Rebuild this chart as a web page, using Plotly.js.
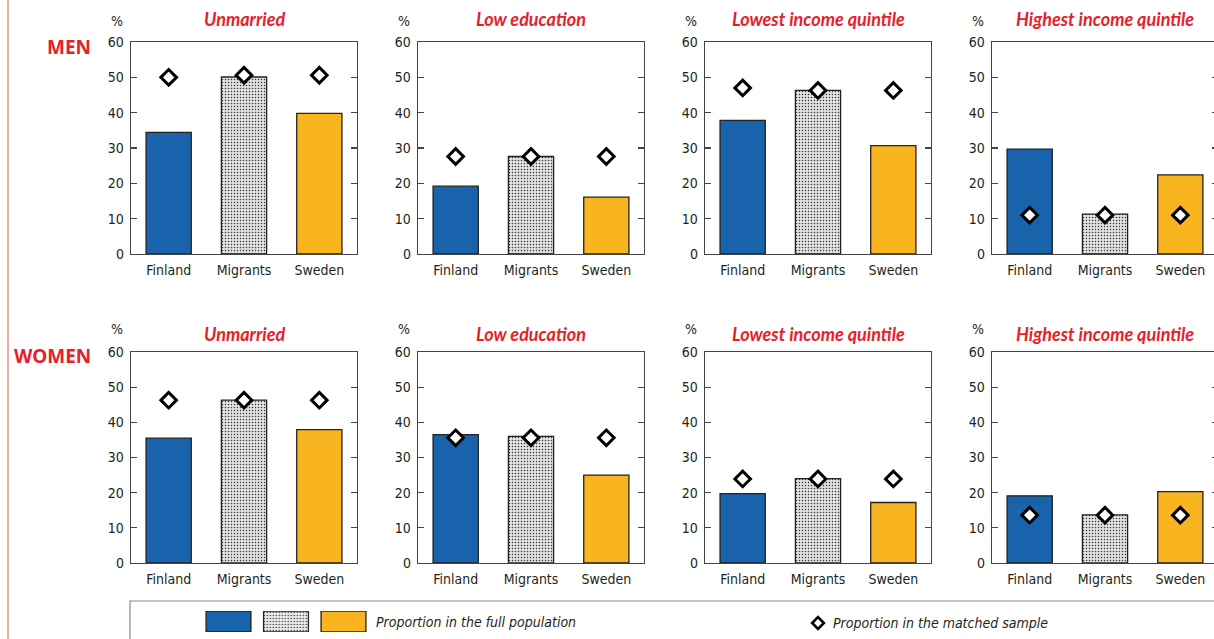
<!DOCTYPE html>
<html>
<head>
<meta charset="utf-8">
<script src="https://cdn.plot.ly/plotly-3.0.1.min.js"></script>
<style>
html,body{margin:0;padding:0;overflow:hidden;background:#fff;width:1214px;height:639px;}
#chart{width:1230px;height:639px;}
</style>
</head>
<body>
<div id="chart"></div>
<script>
// ---------------- DATA ----------------
const categories = ['Finland', 'Migrants', 'Sweden'];
const panelTitles = ['Unmarried', 'Low education', 'Lowest income quintile', 'Highest income quintile'];
const rowLabels = ['MEN', 'WOMEN'];
const yTicks = [0, 10, 20, 30, 40, 50, 60];

// Men – proportion in the full population
const menFullUnmarried = [34.4, 50.1, 39.8];
const menFullLowEducation = [19.2, 27.6, 16.1];
const menFullLowestIncome = [37.8, 46.3, 30.7];
const menFullHighestIncome = [29.7, 11.3, 22.4];
// Men – proportion in the matched sample
const menMatchedUnmarried = [50.0, 50.6, 50.6];
const menMatchedLowEducation = [27.6, 27.6, 27.6];
const menMatchedLowestIncome = [47.0, 46.3, 46.3];
const menMatchedHighestIncome = [11.0, 11.0, 11.0];

// Women – proportion in the full population
const womenFullUnmarried = [35.5, 46.3, 37.9];
const womenFullLowEducation = [36.5, 36.0, 25.0];
const womenFullLowestIncome = [19.7, 24.0, 17.2];
const womenFullHighestIncome = [19.1, 13.7, 20.3];
// Women – proportion in the matched sample
const womenMatchedUnmarried = [46.3, 46.3, 46.3];
const womenMatchedLowEducation = [35.6, 35.6, 35.6];
const womenMatchedLowestIncome = [23.9, 23.9, 23.9];
const womenMatchedHighestIncome = [13.6, 13.6, 13.6];

const legendFullLabel = 'Proportion in the full population';
const legendMatchedLabel = 'Proportion in the matched sample';
const legendSwatchValues = [1, 1, 1];

// ---------------- LAYOUT HELPERS ----------------
const W = 1230, H = 639;
const fx = p => p / W;
const fy = p => 1 - p / H;

const colLeft = [131, 418, 705, 992];
const colWidth = 226;
const rowTop = [42, 352];
const rowBottom = [254, 563];
const titleY = [19, 334];
const pctY = [21, 329];
const rowLabelY = [47, 356];

const blue = '#1863AC', yellow = '#F8B51F', red = '#E8202A';
const FONT = '"DejaVu Sans Condensed", "Liberation Sans Narrow", sans-serif';
const TITLEFONT = 'Lato, "DejaVu Sans Condensed", sans-serif';

const fullData = [
  [menFullUnmarried, menFullLowEducation, menFullLowestIncome, menFullHighestIncome],
  [womenFullUnmarried, womenFullLowEducation, womenFullLowestIncome, womenFullHighestIncome]
];
const matchedData = [
  [menMatchedUnmarried, menMatchedLowEducation, menMatchedLowestIncome, menMatchedHighestIncome],
  [womenMatchedUnmarried, womenMatchedLowEducation, womenMatchedLowestIncome, womenMatchedHighestIncome]
];

const traces = [];
const layout = {
  width: W, height: H,
  margin: {l: 0, r: 0, t: 0, b: 0},
  paper_bgcolor: '#fff', plot_bgcolor: '#fff',
  showlegend: false,
  font: {family: FONT, size: 14, color: '#231f20'},
  annotations: [], shapes: []
};

function barMarker(i, light) {
  const m = {color: [blue, '#e2e2e2', yellow][i], line: {color: '#222', width: 1.3}};
  if (i === 1) m.pattern = {shape: '.', bgcolor: light ? '#ececec' : '#e2e2e2', fgcolor: '#333', size: 3, solidity: 0.2, fillmode: 'replace'};
  return m;
}

let idx = 1;
for (let r = 0; r < 2; r++) {
  for (let c = 0; c < 4; c++) {
    const xa = idx === 1 ? 'x' : 'x' + idx;
    const ya = idx === 1 ? 'y' : 'y' + idx;
    const xk = idx === 1 ? 'xaxis' : 'xaxis' + idx;
    const yk = idx === 1 ? 'yaxis' : 'yaxis' + idx;
    layout[xk] = {
      domain: [fx(colLeft[c]), fx(colLeft[c] + colWidth)],
      anchor: ya, type: 'category', range: [-0.5, 2.5],
      showline: true, linecolor: '#444', linewidth: 1.3, mirror: true,
      ticks: '', showgrid: false, zeroline: false, ticklabelstandoff: 3,
      tickfont: {family: FONT, size: 14, color: '#231f20'}, fixedrange: true
    };
    layout[yk] = {
      domain: [fy(rowBottom[r]), fy(rowTop[r])],
      anchor: xa, range: [0, 60], tickvals: yTicks,
      showline: true, linecolor: '#444', linewidth: 1.3, mirror: 'ticks',
      ticks: 'inside', ticklen: 6, tickcolor: '#444', tickwidth: 1.2,
      showgrid: false, zeroline: false, ticklabelstandoff: 3,
      tickfont: {family: FONT, size: 14, color: '#231f20'}, fixedrange: true
    };
    const vals = fullData[r][c];
    categories.forEach((cat, i) => {
      traces.push({type: 'bar', x: [cat], y: [vals[i]], xaxis: xa, yaxis: ya, width: 0.6, marker: barMarker(i, false), hoverinfo: 'y'});
    });
    traces.push({
      type: 'scatter', mode: 'markers', x: categories, y: matchedData[r][c], xaxis: xa, yaxis: ya,
      marker: {symbol: 'diamond', size: 12, color: '#fff', line: {color: '#000', width: 3}}, hoverinfo: 'y'
    });
    layout.annotations.push({
      xref: 'paper', yref: 'paper', x: fx(colLeft[c] + colWidth / 2), y: fy(titleY[r]),
      text: '<b><i>' + panelTitles[c] + '</i></b>', showarrow: false,
      font: {family: TITLEFONT, size: 18, color: red}, xanchor: 'center', yanchor: 'middle'
    });
    layout.annotations.push({
      xref: 'paper', yref: 'paper', x: fx(colLeft[c] - 14), y: fy(pctY[r]),
      text: '%', showarrow: false, font: {family: FONT, size: 14, color: '#231f20'},
      xanchor: 'center', yanchor: 'middle'
    });
    idx++;
  }
  layout.annotations.push({
    xref: 'paper', yref: 'paper', x: fx(93), y: fy(rowLabelY[r]),
    text: '<b>' + rowLabels[r] + '</b>', showarrow: false,
    font: {family: '"Noto Sans", "Open Sans", sans-serif', size: 19, color: red},
    xanchor: 'right', yanchor: 'middle'
  });
}

// ----- legend (drawn via small axes) -----
const lx = 'x' + idx, ly = 'y' + idx;
layout['xaxis' + idx] = {domain: [fx(199.75), fx(372.25)], anchor: ly, range: [-0.5, 2.5], type: 'category', visible: false, fixedrange: true};
layout['yaxis' + idx] = {domain: [fy(632), fy(611)], anchor: lx, range: [0, 1], visible: false, fixedrange: true};
categories.forEach((cat, i) => {
  traces.push({type: 'bar', x: [cat], y: [legendSwatchValues[i]], xaxis: lx, yaxis: ly, width: 0.78, marker: barMarker(i, true), hoverinfo: 'skip'});
});
idx++;
const dx = 'x' + idx, dy = 'y' + idx;
layout['xaxis' + idx] = {domain: [fx(808), fx(828)], anchor: dy, range: [-1, 1], visible: false, fixedrange: true};
layout['yaxis' + idx] = {domain: [fy(633), fy(613)], anchor: dx, range: [-1, 1], visible: false, fixedrange: true};
traces.push({type: 'scatter', mode: 'markers', x: [0], y: [0], xaxis: dx, yaxis: dy,
  marker: {symbol: 'diamond', size: 9, color: '#fff', line: {color: '#000', width: 2.6}}, hoverinfo: 'skip'});

layout.annotations.push({
  xref: 'paper', yref: 'paper', x: fx(374), y: fy(622), text: '<i>' + legendFullLabel + '</i>',
  showarrow: false, xanchor: 'left', yanchor: 'middle', font: {family: FONT, size: 14, color: '#231f20'}
});
layout.annotations.push({
  xref: 'paper', yref: 'paper', x: fx(831), y: fy(623), text: '<i>' + legendMatchedLabel + '</i>',
  showarrow: false, xanchor: 'left', yanchor: 'middle', font: {family: FONT, size: 14, color: '#231f20'}
});

layout.shapes.push({type: 'rect', xref: 'paper', yref: 'paper', x0: fx(130), x1: 1.05, y0: fy(650), y1: fy(601),
  line: {color: '#888', width: 1.2}, fillcolor: 'rgba(0,0,0,0)'});
layout.shapes.push({type: 'line', xref: 'paper', yref: 'paper', x0: fx(8), x1: fx(8), y0: -0.05, y1: 1.05,
  line: {color: '#F08C8C', width: 1.5}});

Plotly.newPlot('chart', traces, layout, {displayModeBar: false, staticPlot: true});
</script>
</body>
</html>
